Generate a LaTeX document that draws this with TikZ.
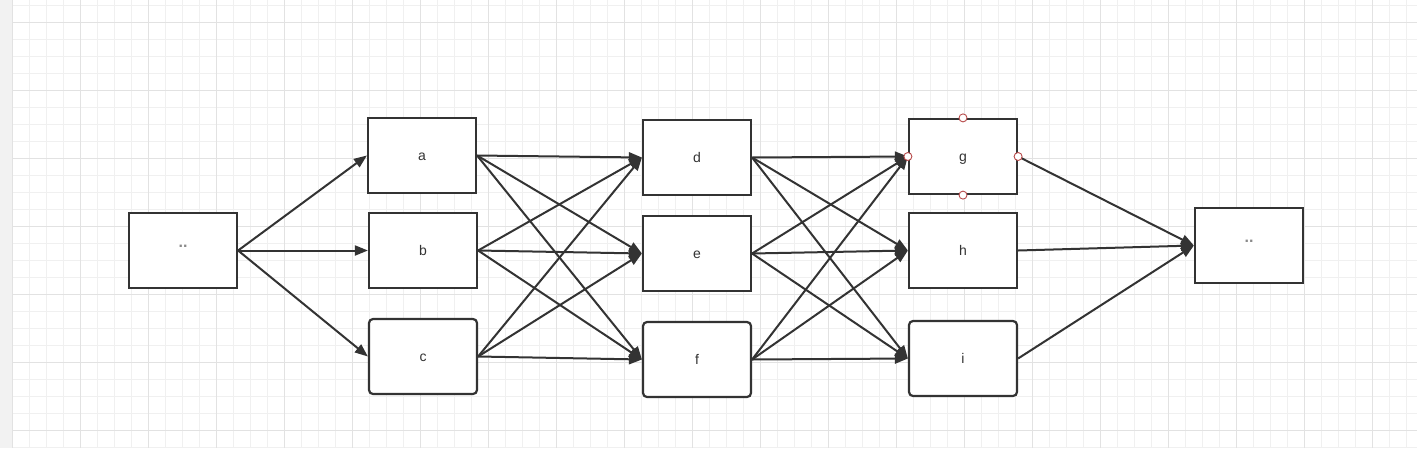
\documentclass[tikz,border=0pt]{standalone}
\usepackage{fontspec}
\setmainfont{Liberation Sans}
\usetikzlibrary{arrows.meta}
\definecolor{ink}{HTML}{333333}
\definecolor{gridminor}{HTML}{F0F0F0}
\definecolor{gridmajor}{HTML}{E2E2E2}
\definecolor{strip}{HTML}{F2F2F2}
\definecolor{handlered}{HTML}{B84A4A}
\definecolor{dotgray}{HTML}{8A8A8A}
\tikzset{
  box/.style={draw=ink, line width=2.2pt, fill=white, minimum width=108pt, minimum height=75pt,
              inner sep=0pt, font=\fontsize{14}{14}\selectfont, text=ink, text height=10pt, text depth=0pt},
  rbox/.style={box, rounded corners=4pt},
  arr/.style={draw=ink, line width=2pt, -{Triangle[length=13pt,width=10pt]}},
  handle/.style={circle, draw=handlered, fill=white, line width=0.9pt, minimum size=8pt, inner sep=0pt},
  dotlabel/.style={font=\fontsize{16}{16}\selectfont\bfseries, text=dotgray, inner sep=0pt},
}
\begin{document}
\begin{tikzpicture}[x=1pt,y=-1pt]
\useasboundingbox (0,0) rectangle (1417,448);
\fill[white] (0,0) rectangle (1417,448);
% grid
\foreach \x in {12.3,29.3,...,1417} \draw[gridminor, line width=1pt] (\x,0) -- (\x,448);
\foreach \y in {5.3,22.3,...,448} \draw[gridminor, line width=1pt] (12,\y) -- (1417,\y);
\foreach \x in {80.3,148.3,...,1417} \draw[gridmajor, line width=1pt] (\x,0) -- (\x,448);
\foreach \y in {22.3,90.3,...,448} \draw[gridmajor, line width=1pt] (12,\y) -- (1417,\y);
\fill[strip] (0,0) rectangle (12,448);
\draw[gridmajor, line width=1pt] (12.3,0) -- (12.3,448);
% nodes
\node[box] (start) at (183,250.5) {};
\node[dotlabel] (startlbl) at (183,246.5) {..};
\node[box] (a) at (422,155.5) {a};
\node[box] (b) at (423,250.5) {b};
\node[rbox] (c) at (423,356.5) {c};
\node[box] (d) at (697,157.5) {d};
\node[box] (e) at (697,253.5) {e};
\node[rbox] (f) at (697,359.5) {f};
\node[box] (g) at (963,156.5) {g};
\node[box] (h) at (963,250.5) {h};
\node[rbox] (i) at (963,358.5) {i};
\node[box] (fin) at (1249,245.5) {};
\node[dotlabel] (finlbl) at (1249,241.5) {..};
% edges
\foreach \t in {a,b,c} \draw[arr] (start.east) -- (\t.west);
\foreach \s in {a,b,c} \foreach \t in {d,e,f} \draw[arr] (\s.east) -- (\t.west);
\foreach \s in {d,e,f} \foreach \t in {g,h,i} \draw[arr] (\s.east) -- (\t.west);
\foreach \s in {g,h,i} \draw[arr] (\s.east) -- (fin.west);
% selection handles on g
\node[handle] (gn) at (g.north) {};
\node[handle] (gs) at (g.south) {};
\node[handle] (gw) at (g.west) {};
\node[handle] (ge) at (g.east) {};
\end{tikzpicture}
\end{document}
